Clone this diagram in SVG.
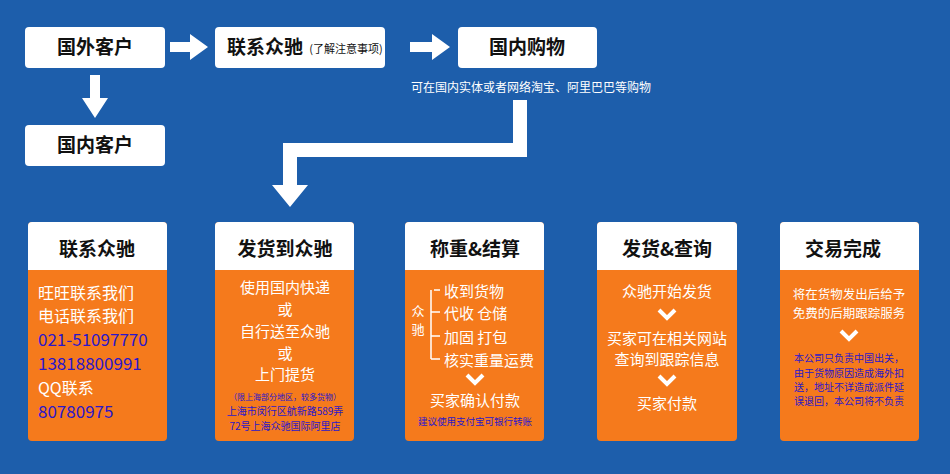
<svg xmlns="http://www.w3.org/2000/svg" width="950" height="474" viewBox="0 0 950 474">
<style>
text{font-family:"Noto Sans CJK SC","Liberation Sans",sans-serif;}
.box{fill:#fff;}
.hd{font-size:19px;font-weight:bold;fill:#111;text-anchor:middle;}
.or{fill:#f57a1c;}
.w{fill:#fff;font-size:15px;text-anchor:middle;}
.b{fill:#2b17c9;}
.arr{fill:#fff;}
</style>
<rect width="950" height="474" fill="#1d5eab"/>
<g id="n-guowai"><rect class="box" x="25" y="27" width="140" height="41" rx="4"/><text class="hd" x="95" y="54">国外客户</text></g>
<g id="n-lianxi-top"><rect class="box" x="215" y="27" width="170" height="41" rx="4"/><text class="hd" x="265" y="54">联系众驰</text><text x="346" y="53" font-size="11" fill="#111" text-anchor="middle">(了解注意事项)</text></g>
<g id="n-guonei-gouwu"><rect class="box" x="458" y="27" width="139" height="41" rx="4"/><text class="hd" x="527" y="54">国内购物</text></g>
<text x="531" y="92" font-size="12" fill="#fff" text-anchor="middle">可在国内实体或者网络淘宝、阿里巴巴等购物</text>
<g id="n-guonei-kehu"><rect class="box" x="25" y="125" width="140" height="41" rx="4"/><text class="hd" x="95" y="152">国内客户</text></g>
<g id="connectors">
<polygon class="arr" points="170,42 190,42 190,34 208,47 190,60 190,52 170,52"/>
<polygon class="arr" points="410,42 432,42 432,34 450,47 432,60 432,52 410,52"/>
<polygon class="arr" points="90,75 100,75 100,98 108,98 95,118 82,98 90,98"/>
<polygon class="arr" points="513,100 527,100 527,157 297,157 297,185 308,185 290,207 272,185 283,185 283,143 513,143"/>
</g>
<g id="c1"><rect class="or" x="28" y="222" width="139" height="219" rx="4"/><path class="box" d="M28 270V226a4 4 0 0 1 4-4h131a4 4 0 0 1 4 4v44z"/><text class="hd" x="97" y="256">联系众驰</text>
<g font-size="16" fill="#fff"><text x="38" y="299">旺旺联系我们</text><text x="38" y="322">电话联系我们</text><text x="38" y="346" class="b" font-family="Liberation Sans" font-size="17">021-51097770</text><text x="38" y="370" class="b" font-family="Liberation Sans" font-size="17">13818800991</text><text x="38" y="394">QQ联系</text><text x="38" y="418" class="b" font-family="Liberation Sans" font-size="17">80780975</text></g></g>
<g id="c2"><rect class="or" x="215" y="222" width="139" height="219" rx="4"/><path class="box" d="M215 270V226a4 4 0 0 1 4-4h131a4 4 0 0 1 4 4v44z"/><text class="hd" x="285" y="256">发货到众驰</text>
<text class="w" x="285" y="293">使用国内快递</text><text class="w" x="285" y="315">或</text><text class="w" x="285" y="337">自行送至众驰</text><text class="w" x="285" y="359">或</text><text class="w" x="285" y="380">上门提货</text>
<text x="285" y="400" font-size="8" fill="#2b17c9" text-anchor="middle">（限上海部分地区，较多货物）</text>
<text x="285" y="415" font-size="10" fill="#2b17c9" text-anchor="middle">上海市闵行区航新路589弄</text>
<text x="285" y="430" font-size="10" fill="#2b17c9" text-anchor="middle">72号上海众驰国际阿里店</text></g>
<g id="c3"><rect class="or" x="405" y="222" width="139" height="219" rx="4"/><path class="box" d="M405 270V226a4 4 0 0 1 4-4h131a4 4 0 0 1 4 4v44z"/><text class="hd" x="475" y="256">称重&amp;结算</text>
<text x="418" y="316" font-size="13" fill="#fff" text-anchor="middle">众</text><text x="418" y="334" font-size="13" fill="#fff" text-anchor="middle">驰</text>
<path d="M434 290H440M431 290V359M431 312H440M431 336H440M431 359H440" stroke="#fff" stroke-width="1.5" fill="none"/>
<g font-size="15" fill="#fff"><text x="444" y="297">收到货物</text><text x="444" y="319">代收 仓储</text><text x="444" y="343">加固 打包</text><text x="444" y="366">核实重量运费</text></g>
<path d="M467 375l8 8 8-8" stroke="#fff" stroke-width="4" fill="none"/>
<text class="w" x="475" y="406">买家确认付款</text>
<text x="475" y="425" font-size="9.5" fill="#2b17c9" text-anchor="middle">建议使用支付宝可银行转账</text></g>
<g id="c4"><rect class="or" x="597" y="222" width="140" height="219" rx="4"/><path class="box" d="M597 270V226a4 4 0 0 1 4-4h132a4 4 0 0 1 4 4v44z"/><text class="hd" x="667" y="256">发货&amp;查询</text>
<text class="w" x="667" y="297">众驰开始发货</text>
<path d="M659 310l8 8 8-8" stroke="#fff" stroke-width="4" fill="none"/>
<text class="w" x="667" y="344">买家可在相关网站</text><text class="w" x="667" y="365">查询到跟踪信息</text>
<path d="M659 376l8 8 8-8" stroke="#fff" stroke-width="4" fill="none"/>
<text class="w" x="667" y="409">买家付款</text></g>
<g id="c5"><rect class="or" x="780" y="222" width="139" height="219" rx="4"/><path class="box" d="M780 270V226a4 4 0 0 1 4-4h131a4 4 0 0 1 4 4v44z"/><text class="hd" x="843" y="256">交易完成</text>
<text x="849" y="299" font-size="12.5" fill="#fff" text-anchor="middle">将在货物发出后给予</text><text x="849" y="318" font-size="12.5" fill="#fff" text-anchor="middle">免费的后期跟踪服务</text>
<path d="M841 331l8 8 8-8" stroke="#fff" stroke-width="4" fill="none"/>
<g font-size="10" fill="#2b17c9" text-anchor="middle"><text x="849" y="362">本公司只负责中国出关，</text><text x="849" y="377">由于货物原因造成海外扣</text><text x="849" y="391">送，地址不详造成派件延</text><text x="849" y="405">误退回，本公司将不负责</text></g></g>
</svg>
